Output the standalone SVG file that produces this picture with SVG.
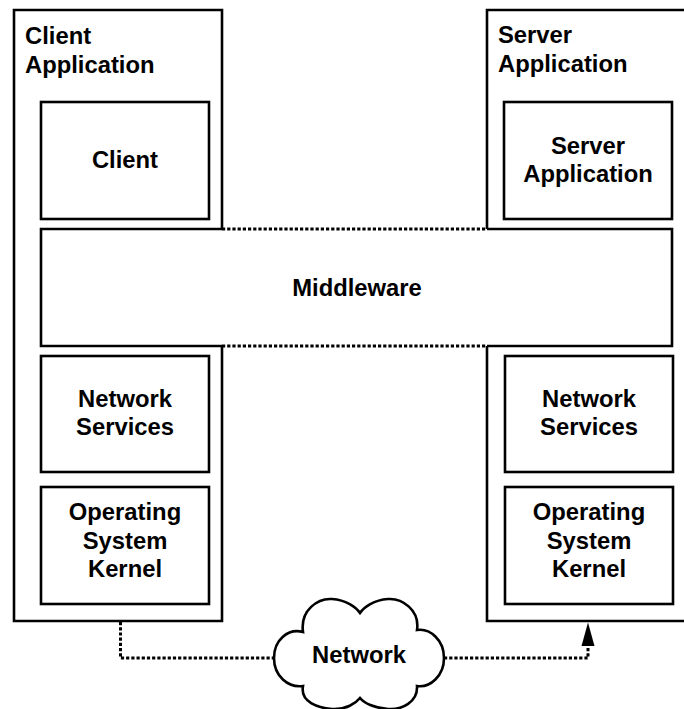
<svg xmlns="http://www.w3.org/2000/svg" width="684" height="709" viewBox="0 0 684 709">
<defs>
<style>
.solid{fill:none;stroke:#000;stroke-width:2.6;stroke-linejoin:miter}
.box{fill:#fff;stroke:#000;stroke-width:2.6}
.dot{fill:none;stroke:#000;stroke-width:3;stroke-dasharray:3.2 2}
.t{font-family:"Liberation Sans",Arial,sans-serif;font-weight:bold;font-size:23.8px;fill:#000}
.c{text-anchor:middle}
</style>
</defs>
<rect width="684" height="709" fill="#fff"/>

<g id="client-application">
<path class="solid" d="M222,229 V10 H14 V621 H222 V346"/>
<text class="t" x="25" y="44">Client</text>
<text class="t" x="25" y="73">Application</text>
</g>

<g id="server-application-outer">
<path class="solid" d="M487,229 V10 H700 M487,346 V621 H700"/>
<text class="t" x="498" y="43">Server</text>
<text class="t" x="498" y="72">Application</text>
</g>

<g id="client">
<rect class="box" x="41" y="102" width="168" height="117"/>
<text class="t c" x="125" y="168">Client</text>
</g>

<g id="server-application">
<rect class="box" x="504" y="102" width="168" height="117"/>
<text class="t c" x="588" y="154">Server</text>
<text class="t c" x="588" y="182">Application</text>
</g>

<g id="middleware">
<path class="solid" d="M222,229 H41 V346 H222 M487,229 H672 V346 H487"/>
<path class="dot" d="M222,229 H487 M222,346 H487"/>
<text class="t c" x="357" y="296">Middleware</text>
</g>

<g id="client-network-services">
<rect class="box" x="41" y="356" width="168" height="116"/>
<text class="t c" x="125" y="407">Network</text>
<text class="t c" x="125" y="435">Services</text>
</g>

<g id="client-os-kernel">
<rect class="box" x="41" y="487" width="168" height="117"/>
<text class="t c" x="125" y="520">Operating</text>
<text class="t c" x="125" y="548.5">System</text>
<text class="t c" x="125" y="577">Kernel</text>
</g>

<g id="server-network-services">
<rect class="box" x="505" y="356" width="168" height="116"/>
<text class="t c" x="589" y="407">Network</text>
<text class="t c" x="589" y="435">Services</text>
</g>

<g id="server-os-kernel">
<rect class="box" x="505" y="487" width="168" height="117"/>
<text class="t c" x="589" y="520">Operating</text>
<text class="t c" x="589" y="548.5">System</text>
<text class="t c" x="589" y="577">Kernel</text>
</g>

<g id="network">
<path class="box" d="M303,632 C300,610 318,598 332,599 C346,600 356,607 360,613 C364,607 374,600 388,599 C402,598 420,610 417,630 C430,628 444,640 444,658 C444,676 430,688 417,686 C418,702 402,710 388,709 C374,708 364,703 360,698 C356,703 346,710 332,709 C318,708 300,702 303,686 C288,688 274,676 274,658 C274,640 288,628 303,632 Z"/>
<text class="t c" x="359" y="663">Network</text>
</g>

<g id="connectors">
<path class="dot" d="M120.5,622 V658 H274"/>
<path class="dot" d="M444,658 H588 V642"/>
<path d="M588,622.5 L594.5,646 L581.5,646 Z" fill="#000"/>
</g>
</svg>
